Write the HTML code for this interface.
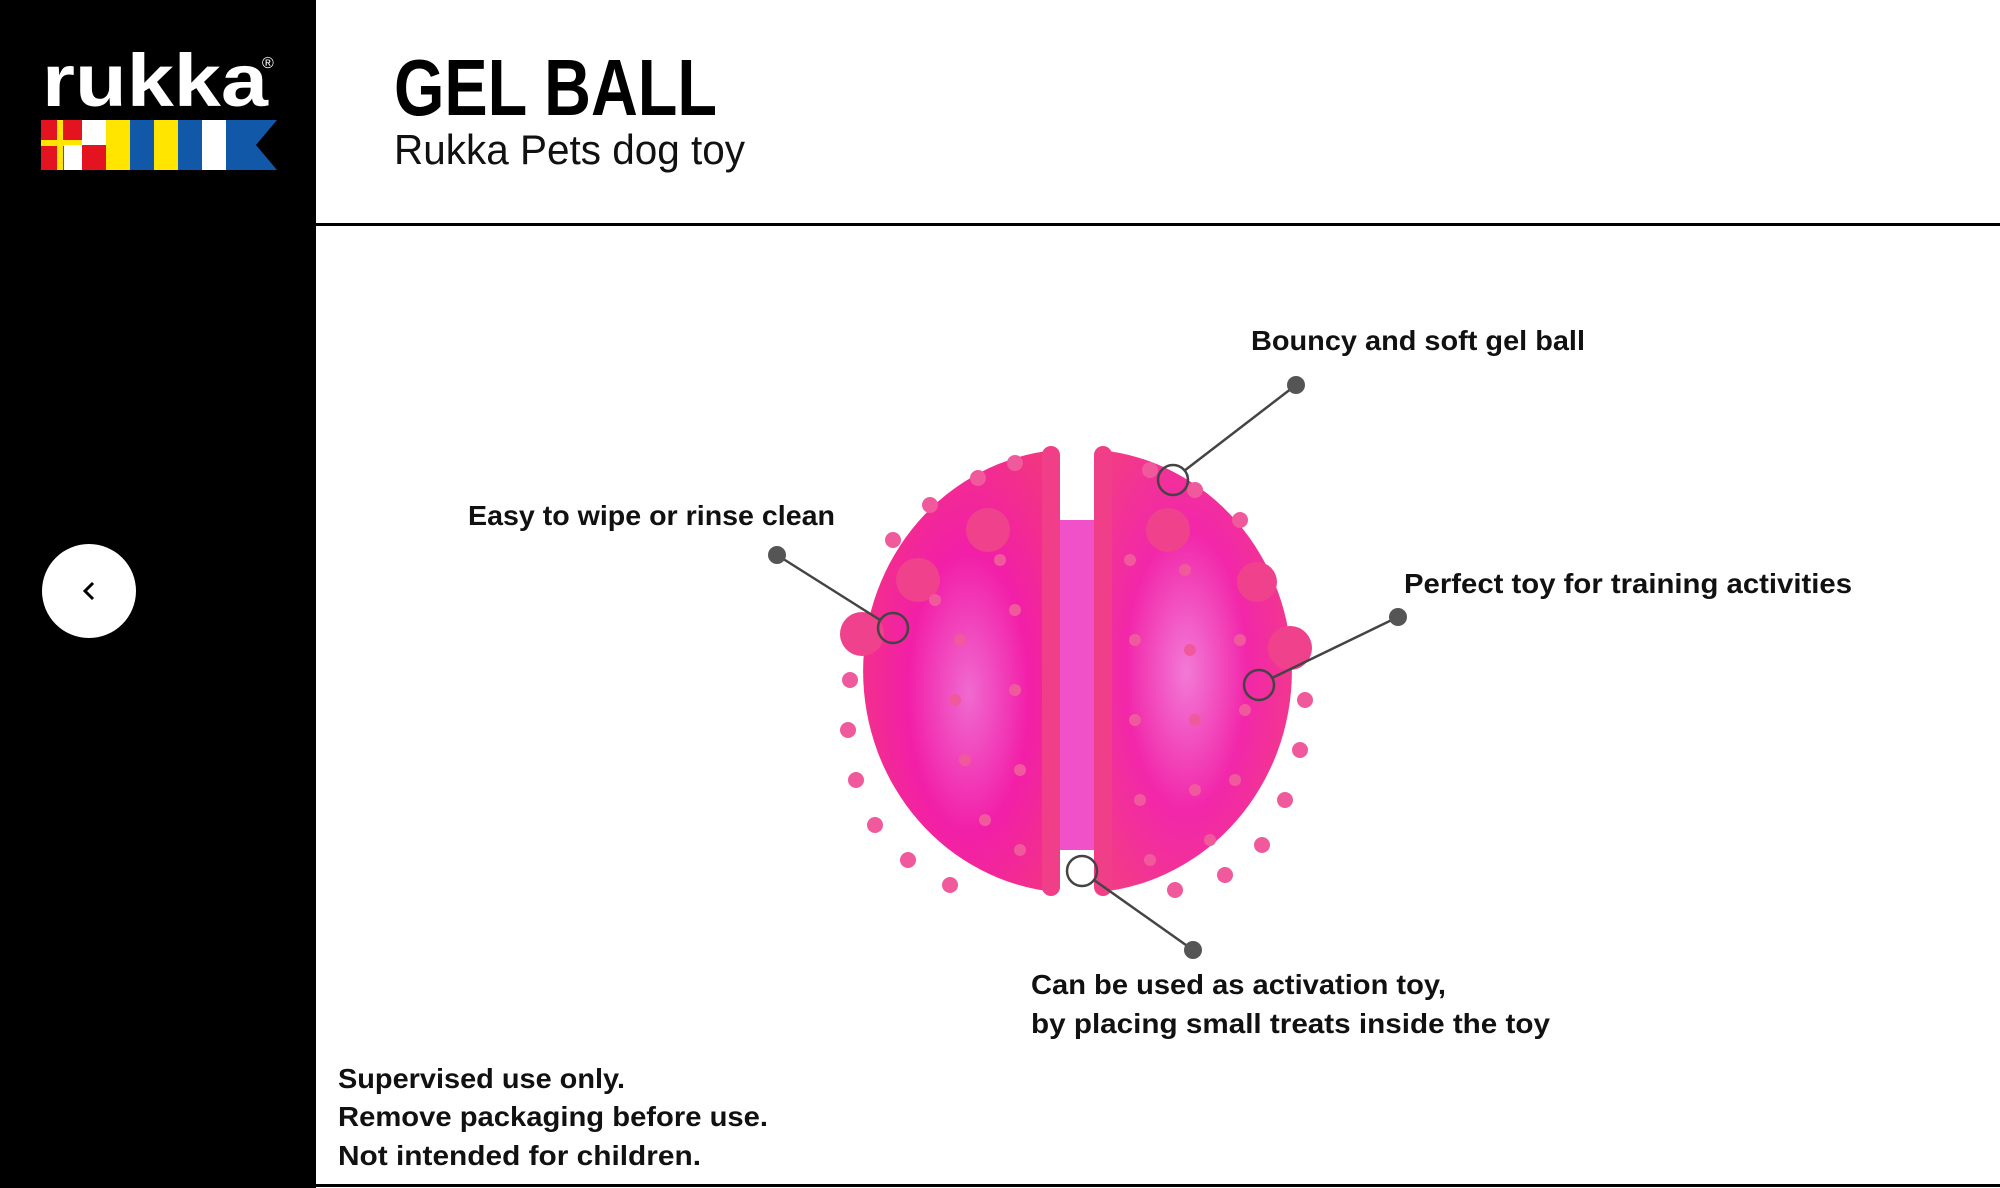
<!DOCTYPE html>
<html><head><meta charset="utf-8"><style>
html,body{margin:0;padding:0;background:#fff}
svg{display:block}
text{font-family:"Liberation Sans",sans-serif}
</style></head><body>
<svg width="2000" height="1188" viewBox="0 0 2000 1188" xmlns="http://www.w3.org/2000/svg">
<defs>
<radialGradient id="hl" cx="0.55" cy="0.55" r="0.7">
<stop offset="0" stop-color="#f06ad0"/><stop offset="0.45" stop-color="#f21fa8"/><stop offset="1" stop-color="#f2397a"/>
</radialGradient>
<radialGradient id="hr" cx="0.45" cy="0.5" r="0.7">
<stop offset="0" stop-color="#f27ad6"/><stop offset="0.45" stop-color="#f227aa"/><stop offset="1" stop-color="#f2417c"/>
</radialGradient>
</defs>
<rect width="2000" height="1188" fill="#fff"/>
<rect x="0" y="0" width="316" height="1188" fill="#000"/>
<!-- logo -->
<text x="42" y="106" font-size="74" font-weight="bold" fill="#fff" textLength="226" lengthAdjust="spacingAndGlyphs">rukka</text>
<text x="262" y="68" font-size="16" fill="#fff">®</text>
<rect x="41" y="120" width="65" height="50" fill="#e3141f"/>
<rect x="57" y="120" width="6" height="50" fill="#ffe500"/>
<rect x="41" y="140" width="65" height="6" fill="#ffe500"/>
<rect x="82" y="120" width="24" height="25" fill="#fff"/>
<rect x="82" y="145" width="24" height="25" fill="#e3141f"/>
<rect x="64" y="145" width="18" height="25" fill="#fff"/>
<rect x="106" y="120" width="24" height="50" fill="#ffe500"/>
<rect x="130" y="120" width="24" height="50" fill="#1258a8"/>
<rect x="154" y="120" width="24" height="50" fill="#ffe500"/>
<rect x="178" y="120" width="24" height="50" fill="#1258a8"/>
<rect x="202" y="120" width="24" height="50" fill="#fff"/>
<polygon points="226,120 277,120 256,145 277,170 226,170" fill="#1258a8"/>
<!-- back button -->
<circle cx="89" cy="591" r="47" fill="#fff"/>
<polyline points="93,583 85,591 93,599" fill="none" stroke="#000" stroke-width="3"/>
<!-- header -->
<text x="394" y="115" font-size="80" font-weight="bold" fill="#000" textLength="323" lengthAdjust="spacingAndGlyphs">GEL BALL</text>
<text x="394" y="164" font-size="42" fill="#111" textLength="351" lengthAdjust="spacingAndGlyphs">Rukka Pets dog toy</text>
<rect x="316" y="223" width="1684" height="3" fill="#000"/>
<rect x="316" y="1184" width="1684" height="3" fill="#000"/>
<!-- ball -->
<g>
<path d="M1055,450 A212,222 0 0 0 1055,892 Z" fill="url(#hl)"/>
<path d="M1100,450 A212,222 0 0 1 1100,892 Z" fill="url(#hr)"/>
<rect x="1055" y="520" width="45" height="330" fill="#f050c8"/>
<rect x="1042" y="446" width="18" height="450" rx="9" fill="#f03f88"/>
<rect x="1094" y="446" width="18" height="450" rx="9" fill="#f03f88"/>
<g fill="#f0428c">
<circle cx="862" cy="634" r="22"/><circle cx="918" cy="580" r="22"/><circle cx="988" cy="530" r="22"/>
<circle cx="1168" cy="530" r="22"/><circle cx="1257" cy="582" r="20"/><circle cx="1290" cy="648" r="22"/>
</g>
<g fill="#f05a9c">
<circle cx="893" cy="540" r="8"/><circle cx="930" cy="505" r="8"/><circle cx="978" cy="478" r="8"/><circle cx="1015" cy="463" r="8"/>
<circle cx="850" cy="680" r="8"/><circle cx="848" cy="730" r="8"/><circle cx="856" cy="780" r="8"/><circle cx="875" cy="825" r="8"/><circle cx="908" cy="860" r="8"/><circle cx="950" cy="885" r="8"/>
<circle cx="960" cy="640" r="6"/><circle cx="955" cy="700" r="6"/><circle cx="965" cy="760" r="6"/><circle cx="985" cy="820" r="6"/><circle cx="1015" cy="610" r="6"/><circle cx="1015" cy="690" r="6"/><circle cx="1020" cy="770" r="6"/><circle cx="1020" cy="850" r="6"/><circle cx="935" cy="600" r="6"/><circle cx="1000" cy="560" r="6"/>
<circle cx="1150" cy="470" r="8"/><circle cx="1195" cy="490" r="8"/><circle cx="1240" cy="520" r="8"/><circle cx="1305" cy="700" r="8"/><circle cx="1300" cy="750" r="8"/><circle cx="1285" cy="800" r="8"/><circle cx="1262" cy="845" r="8"/><circle cx="1225" cy="875" r="8"/><circle cx="1175" cy="890" r="8"/>
<circle cx="1130" cy="560" r="6"/><circle cx="1185" cy="570" r="6"/><circle cx="1135" cy="640" r="6"/><circle cx="1190" cy="650" r="6"/><circle cx="1240" cy="640" r="6"/><circle cx="1135" cy="720" r="6"/><circle cx="1195" cy="720" r="6"/><circle cx="1245" cy="710" r="6"/><circle cx="1140" cy="800" r="6"/><circle cx="1195" cy="790" r="6"/><circle cx="1235" cy="780" r="6"/><circle cx="1150" cy="860" r="6"/><circle cx="1210" cy="840" r="6"/>
</g>
</g>
<!-- callouts -->
<g stroke="#444" stroke-width="2.5" fill="none">
<line x1="1296" y1="385" x2="1184" y2="471"/><circle cx="1173" cy="480" r="15"/>
<line x1="777" y1="555" x2="880" y2="620"/><circle cx="893" cy="628" r="15"/>
<line x1="1398" y1="617" x2="1272" y2="678"/><circle cx="1259" cy="685" r="15"/>
<line x1="1193" y1="950" x2="1094" y2="880"/><circle cx="1082" cy="871" r="15"/>
</g>
<g fill="#555">
<circle cx="1296" cy="385" r="9"/><circle cx="777" cy="555" r="9"/><circle cx="1398" cy="617" r="9"/><circle cx="1193" cy="950" r="9"/>
</g>
<g font-size="28" font-weight="bold" fill="#111">
<text x="1251" y="350" textLength="334" lengthAdjust="spacingAndGlyphs">Bouncy and soft gel ball</text>
<text x="468" y="525" textLength="367" lengthAdjust="spacingAndGlyphs">Easy to wipe or rinse clean</text>
<text x="1404" y="593" textLength="448" lengthAdjust="spacingAndGlyphs">Perfect toy for training activities</text>
<text x="1031" y="994" textLength="415" lengthAdjust="spacingAndGlyphs">Can be used as activation toy,</text>
<text x="1031" y="1033" textLength="519" lengthAdjust="spacingAndGlyphs">by placing small treats inside  the toy</text>
<text x="338" y="1088" textLength="287" lengthAdjust="spacingAndGlyphs">Supervised use only.</text>
<text x="338" y="1126" textLength="430" lengthAdjust="spacingAndGlyphs">Remove packaging before use.</text>
<text x="338" y="1165" textLength="363" lengthAdjust="spacingAndGlyphs">Not intended for children.</text>
</g>
</svg>
</body></html>
